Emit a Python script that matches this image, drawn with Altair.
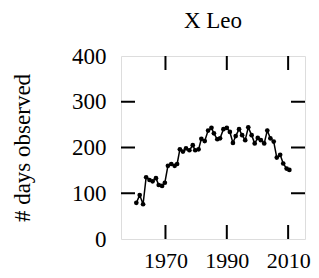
import altair as alt
import pandas as pd

years = [1960.5, 1961.6, 1962.7, 1963.7, 1964.8, 1965.8, 1966.9, 1967.8, 1968.9, 1969.8,
         1970.8, 1971.9, 1973.0, 1973.8, 1974.7, 1975.7, 1976.7, 1977.8, 1978.9, 1979.7,
         1980.8, 1981.7, 1982.8, 1983.9, 1985.0, 1985.8, 1986.9, 1987.8, 1988.9, 1990.0,
         1991.0, 1992.0, 1992.9, 1994.0, 1995.0, 1996.0, 1997.0, 1998.1, 1999.1, 2000.1,
         2001.1, 2002.2, 2003.2, 2004.2, 2005.3, 2006.3, 2007.4, 2008.4, 2009.5, 2010.4]
days = [79, 96, 76, 135, 129, 126, 133, 118, 116, 123,
        160, 164, 160, 164, 196, 191, 198, 194, 205, 194,
        196, 219, 214, 237, 243, 231, 218, 220, 240, 243,
        234, 210, 225, 240, 227, 216, 244, 227, 209, 221,
        216, 209, 237, 220, 213, 178, 184, 165, 154, 151]

x_ticks = [1970, 1990, 2010]
y_ticks = [0, 100, 200, 300, 400]
y_inner_ticks = [100, 200, 300]

W, H = 184, 183
TL = 14
FONT = "Liberation Serif"

df = pd.DataFrame({"year": years, "days": days})
dfx = pd.DataFrame({"year": x_ticks})
dfy = pd.DataFrame({"days": y_inner_ticks})

xscale = alt.Scale(domain=[1955.5, 2015.5], nice=False, zero=False)
yscale = alt.Scale(domain=[0, 400], nice=False)

xaxis = alt.Axis(values=x_ticks, format="d", grid=False, domain=False, ticks=False,
                 tickSize=0, labelPadding=11, labelFontSize=22, labelFont=FONT,
                 labelColor="black", title=None)
yaxis = alt.Axis(values=y_ticks, grid=False, domain=False, ticks=False, tickSize=0,
                 labelPadding=15, labelFontSize=23, labelFont=FONT, labelColor="black",
                 title="# days observed", titleFont=FONT, titleFontSize=23,
                 titleFontWeight="normal", titleColor="black", titlePadding=37)

line = alt.Chart(df).mark_line(color="black", strokeWidth=1.5).encode(
    x=alt.X("year:Q", scale=xscale, axis=xaxis),
    y=alt.Y("days:Q", scale=yscale, axis=yaxis),
)
pts = alt.Chart(df).mark_circle(color="black", size=22, opacity=1).encode(
    x=alt.X("year:Q", scale=xscale, axis=xaxis),
    y=alt.Y("days:Q", scale=yscale, axis=yaxis),
)
xt_top = alt.Chart(dfx).mark_rule(color="black", strokeWidth=2).encode(
    x=alt.X("year:Q", scale=xscale, axis=xaxis), y=alt.value(0), y2=alt.value(TL))
xt_bot = alt.Chart(dfx).mark_rule(color="black", strokeWidth=2).encode(
    x=alt.X("year:Q", scale=xscale, axis=xaxis), y=alt.value(H - TL), y2=alt.value(H))
yt_left = alt.Chart(dfy).mark_rule(color="black", strokeWidth=2).encode(
    y=alt.Y("days:Q", scale=yscale, axis=yaxis), x=alt.value(0), x2=alt.value(TL))
yt_right = alt.Chart(dfy).mark_rule(color="black", strokeWidth=2).encode(
    y=alt.Y("days:Q", scale=yscale, axis=yaxis), x=alt.value(W - TL), x2=alt.value(W))

chart = alt.layer(line, pts, xt_top, xt_bot, yt_left, yt_right).properties(
    width=W, height=H,
    title=alt.TitleParams("X Leo", font=FONT, fontSize=23, fontWeight="normal",
                          color="black", anchor="middle", offset=12),
    autosize=alt.AutoSizeParams(type="none"),
    padding={"left": 113, "top": 48, "right": 6, "bottom": 39},
).configure_view(stroke="black", strokeWidth=2).configure(background="white")

chart.save("out.html", embed_options={"renderer": "svg", "actions": False})
